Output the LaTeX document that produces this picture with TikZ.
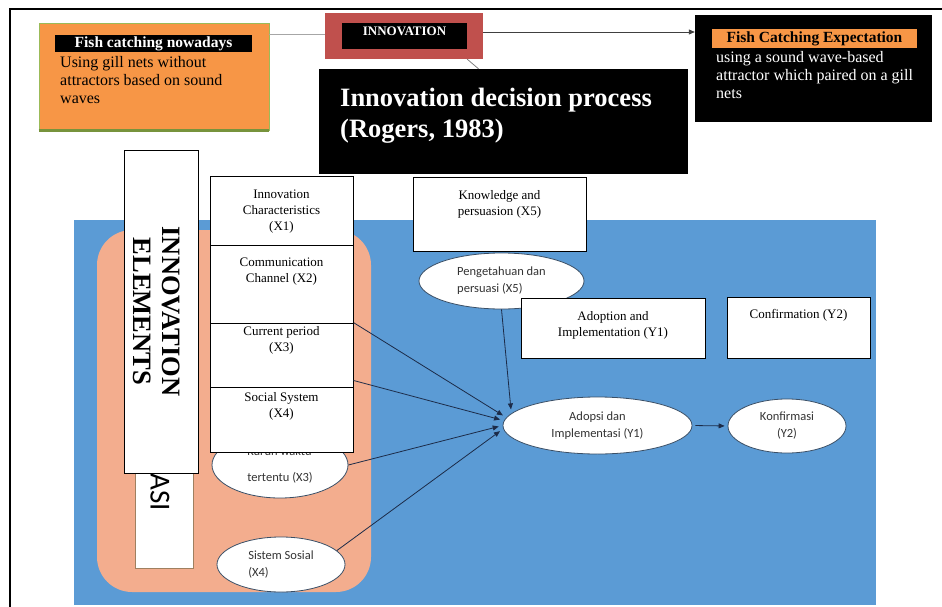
\documentclass[tikz,border=0pt]{standalone}
\usepackage{fontspec}
\setmainfont{Liberation Serif}
\newfontfamily\carlito{Carlito}
\usetikzlibrary{shapes.geometric, arrows.meta}

\definecolor{nowfill}{HTML}{F79646}
\definecolor{nowline}{HTML}{9BBB59}
\definecolor{nowshadow}{HTML}{77933C}
\definecolor{innovred}{HTML}{C0504D}
\definecolor{bgblue}{HTML}{5B9BD5}
\definecolor{salmon}{HTML}{F3AD8E}
\definecolor{ovalline}{HTML}{3A4F66}
\definecolor{linkblue}{HTML}{1C2B48}

\tikzset{
  whitebox/.style={draw=black, line width=0.9pt, fill=white, inner sep=0pt},
  boxtext/.style={anchor=north, align=center, inner sep=0pt, font=\fontsize{13}{16}\selectfont},
  oval/.style={ellipse, draw=ovalline, line width=0.8pt, fill=white, inner sep=0pt,
    text=black!80, font=\carlito\fontsize{12.5}{17}\selectfont},
  link/.style={draw=linkblue, line width=0.8pt, shorten >=4pt, -{Triangle[length=6pt,width=5pt]}},
  blackbox/.style={fill=black, inner sep=0pt},
}

\begin{document}
\begin{tikzpicture}[x=1pt, y=-1pt]
\useasboundingbox (0,0) rectangle (942,607);

% frame
\draw[line width=1.8pt] (10,607) -- (10,9) -- (942,9);

% background panels
\fill[bgblue] (74,220) rectangle (876,605);
\fill[salmon, rounded corners=35pt] (97,230) rectangle (371,592);
\draw[draw=brown!50!gray, fill=white, line width=0.6pt] (135,430) rectangle (193,568);
\node[rotate=-90, inner sep=0pt, font=\carlito\fontsize{29}{30}\selectfont] (asi) at (160,492) {ASI};

% top row
\node[fill=nowfill, draw=nowline, line width=0.6pt, minimum width=230, minimum height=107] (now) at (154,76.5) {};
\draw[nowshadow, line width=2.5pt] (now.south west) -- (now.south east);
\node[blackbox, text=white, minimum width=197, minimum height=17,
  font=\bfseries\fontsize{15.5}{17}\selectfont] (nowtitle) at (153.5,43.5) {Fish catching nowadays};
\node[anchor=north west, align=left, inner sep=0pt, font=\fontsize{16}{18.3}\selectfont] (nowtext) at (60,56)
  {Using gill nets without\\attractors based on sound\\waves};

\node[fill=innovred, minimum width=158, minimum height=46] (innov) at (404,36) {};
\node[blackbox, text=white, minimum width=125, inner sep=1pt, text height=12pt, text depth=12pt,
  font=\bfseries\fontsize{13}{15}\selectfont] (innovtitle) at (404.5,36) {INNOVATION};

\node[blackbox, minimum width=237, minimum height=107] (expect) at (813.5,68.5) {};
\node[fill=nowfill, inner sep=0pt, minimum width=205, minimum height=19,
  font=\bfseries\fontsize{15.5}{17}\selectfont] (expecttitle) at (814.5,38.5) {Fish Catching Expectation};
\node[anchor=north west, align=left, inner sep=0pt, text=white, font=\fontsize{16}{18.3}\selectfont] (expecttext) at (716,51)
  {using a sound wave-based\\attractor which paired on a gill\\nets};

\node[blackbox, minimum width=369, minimum height=105] (decision) at (503.5,121.5) {};
\node[anchor=north west, align=left, inner sep=0pt, text=white,
  font=\bfseries\fontsize{26.5}{31}\selectfont] (decisiontext) at (340,87.7)
  {Innovation decision process\\(Rogers, 1983)};

\draw[gray!70, line width=0.8pt] ([yshift=2pt]innov.west) -- ([yshift=2pt]innov.west -| now.east);
\draw[black!75, line width=0.8pt, -{Triangle[length=6pt,width=5pt]}]
  ([yshift=4pt]innov.east) -- ([yshift=4pt]innov.east -| expect.west);
\draw[gray, line width=0.8pt] ([xshift=-16pt]innov.south east) -- ([xshift=-25pt]decision.north);

% ovals
\node[oval, align=left, minimum width=136, minimum height=66] (kurun) at (280,465) {Kurun waktu\\[9pt]tertentu (X3)};
\node[oval, align=left, minimum width=128, minimum height=55] (sosial) at (281,564.5) {Sistem Sosial\\(X4)};
\node[oval, align=left, minimum width=165, minimum height=56] (x5oval) at (501.5,281) {Pengetahuan dan\\persuasi (X5)};
\node[oval, align=center, minimum width=189, minimum height=57] (y1oval) at (597.5,425.5) {Adopsi dan\\Implementasi (Y1)};
\node[oval, align=center, minimum width=118, minimum height=54] (y2oval) at (787,426) {Konfirmasi\\(Y2)};

% arrows
\draw[link] (x5oval.south) -- (y1oval.172);
\draw[link] (kurun.east) -- (y1oval.180);
\draw[link] (sosial.14) -- (y1oval.182.5);
\draw[link, shorten <=3pt, shorten >=3pt] (y1oval.east) -- (y2oval.west);

% element boxes
\node[whitebox, minimum width=143, minimum height=64,
  label={[boxtext, yshift=-3.7pt]north:Current period\\(X3)}] (x3) at (281.5,355) {};
\draw[link] (x3.north east) -- (y1oval.175);
\draw[link] ([yshift=7pt]x3.south east) -- (y1oval.177.5);
\node[whitebox, minimum width=143, minimum height=69,
  label={[boxtext, yshift=-13.7pt]north:Innovation\\Characteristics\\(X1)}] (x1) at (281.5,210.5) {};
\node[whitebox, minimum width=143, minimum height=78,
  label={[boxtext, yshift=-12.7pt]north:Communication\\Channel (X2)}] (x2) at (281.5,284) {};
\node[whitebox, minimum width=143, minimum height=65,
  label={[boxtext, yshift=-5.7pt]north:Social System\\(X4)}] (x4) at (281.5,419.5) {};

\node[whitebox, minimum width=74, minimum height=323] (elements) at (161,311.5) {};
\node[rotate=-90, align=center, inner sep=0pt, font=\bfseries\fontsize{26.5}{29}\selectfont] (elementstext)
  at ([xshift=-4.5pt]elements.center) {INNOVATION\\ELEMENTS};

\node[whitebox, minimum width=173, minimum height=74,
  label={[boxtext, yshift=-13.7pt]north:Knowledge and\\persuasion (X5)}] (x5box) at (499.5,214) {};
\node[whitebox, minimum width=184, minimum height=60,
  label={[boxtext, yshift=-13.7pt]north:Adoption and\\Implementation (Y1)}] (y1box) at (613,328) {};
\node[whitebox, minimum width=143, minimum height=61,
  label={[boxtext, yshift=-12.7pt]north:Confirmation (Y2)}] (y2box) at (798.5,327.5) {};
\end{tikzpicture}
\end{document}
